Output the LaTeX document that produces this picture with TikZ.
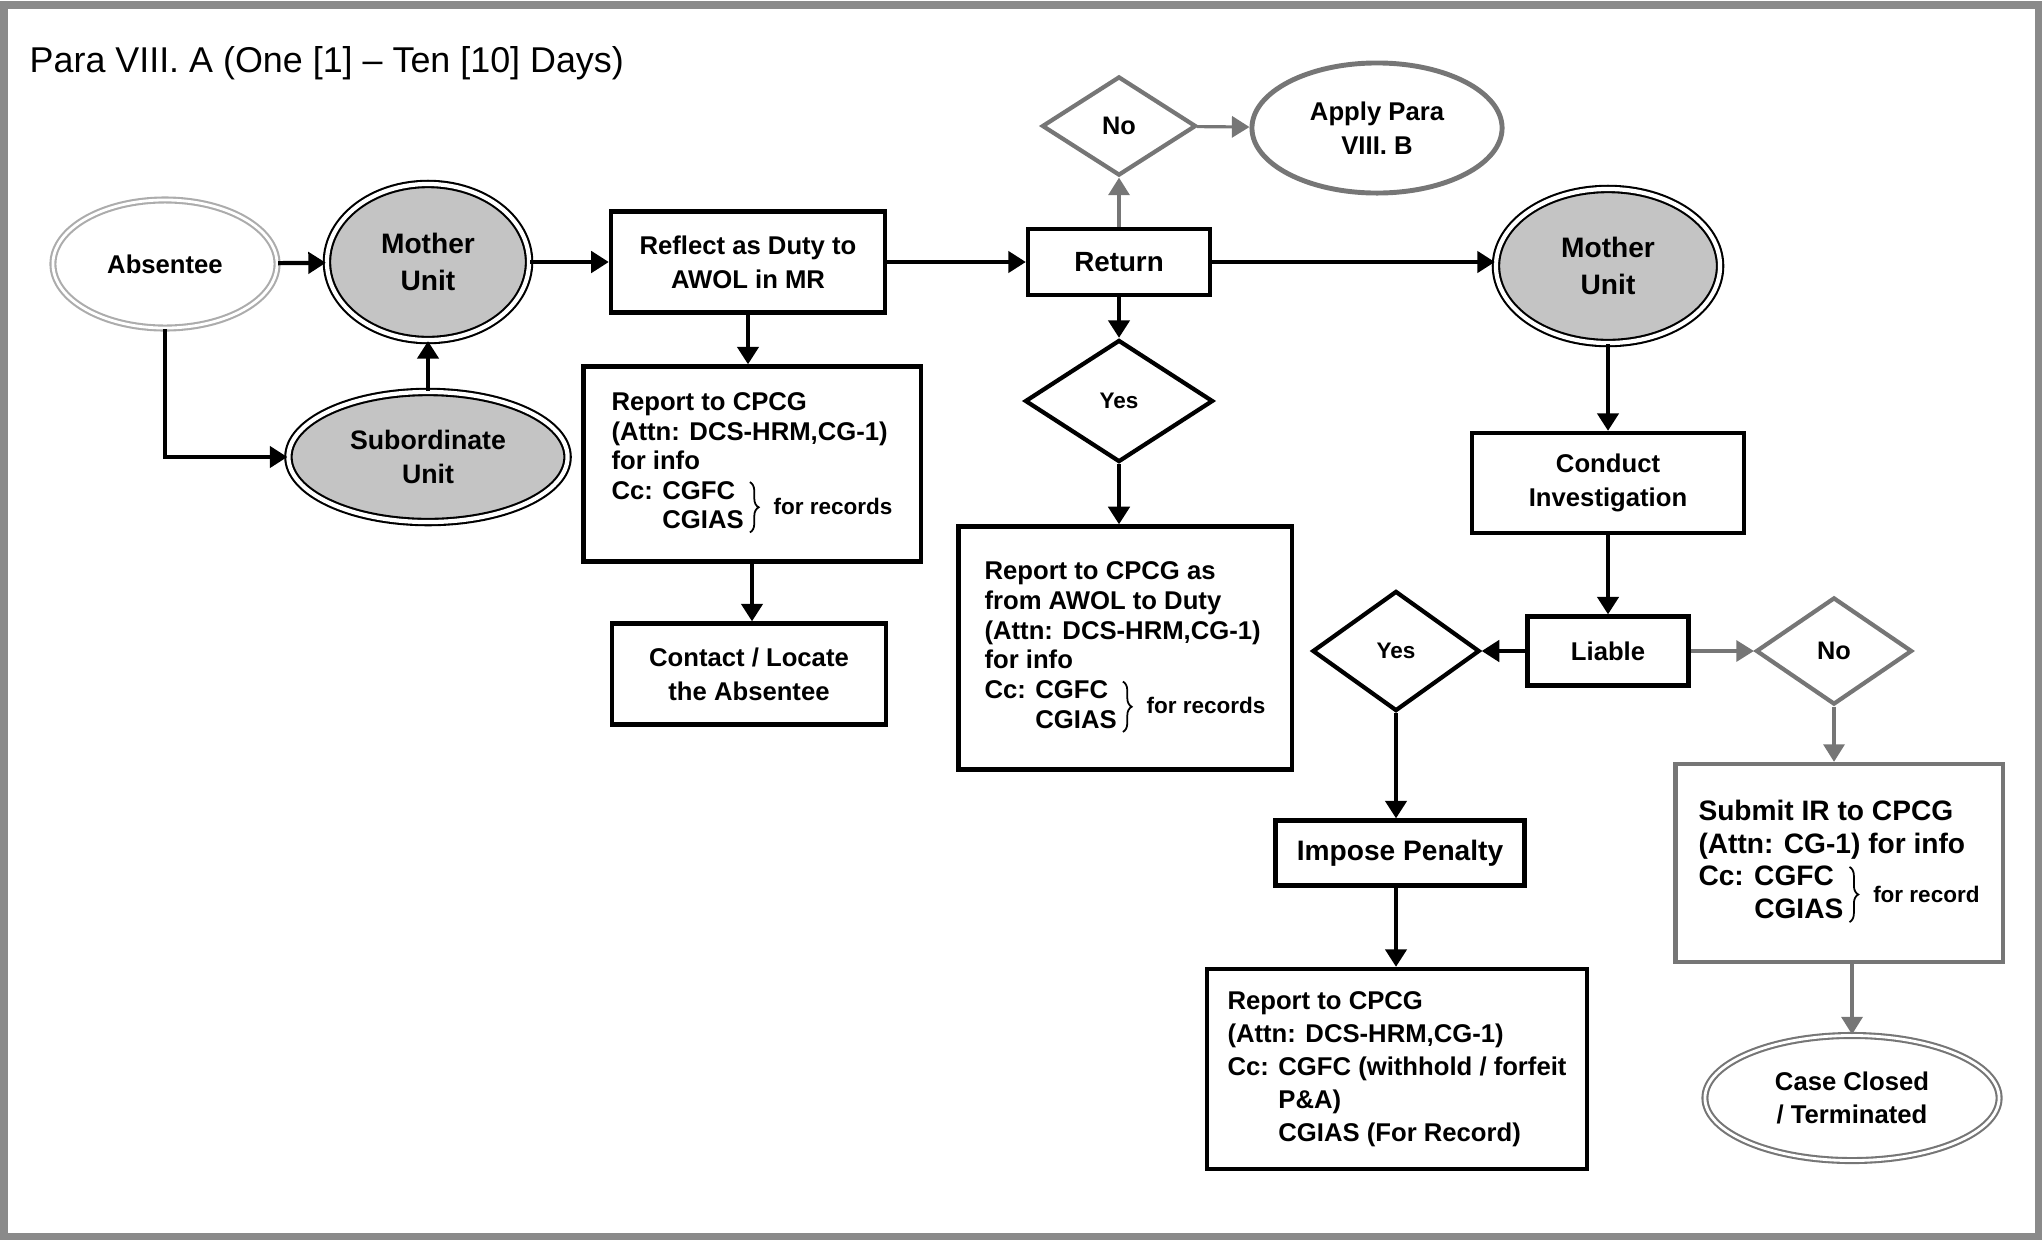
\documentclass[tikz,border=0pt]{standalone}
\usepackage{fontspec}
\setmainfont{Liberation Sans}
\usepackage{xcolor}
\usetikzlibrary{arrows.meta,shapes.geometric,decorations.pathreplacing}
\definecolor{unitgray}{HTML}{C4C4C4}
\definecolor{linegray}{HTML}{767676}
\definecolor{framegray}{HTML}{8A8A8A}
\newcommand{\ccbrace}[3]{\begin{tabular}{@{}l@{ }l@{}}Cc: & #1\\ & #2\end{tabular}\kern1.5pt\tikz[baseline=-0.28em]\draw[black,line width=0.5pt,decorate,decoration={brace,amplitude=2.5pt}] (0pt,0.98em) -- (0pt,-0.98em);\kern4pt{\fontsize{6.4}{7}\selectfont #3}}

\begin{document}
\begin{tikzpicture}[x=0.01cm,y=-0.01cm,
  every node/.style={font=\bfseries\fontsize{7.3}{9.6}\selectfont, inner sep=0pt},
  flowbox/.style={draw, rectangle, line width=1.2pt, align=center},
  graybox/.style={flowbox, draw=linegray},
  unit/.style={ellipse, draw, double, double distance=1.2pt, line width=0.6pt, fill=unitgray, align=center, font=\bfseries\fontsize{8}{10.6}\selectfont},
  plainoval/.style={ellipse, draw=gray!65, double, double distance=0.8pt, line width=0.6pt, align=center},
  grayoval/.style={ellipse, draw=linegray, line width=1.4pt, align=center},
  decision/.style={diamond, draw, line width=1.2pt, font=\bfseries\fontsize{6.4}{8}\selectfont},
  graydecision/.style={decision, draw=linegray, font=\bfseries\fontsize{7.2}{8}\selectfont},
  arrow/.style={line width=1.2pt, -{Triangle[width=6pt,length=5pt]}},
  grayarrow/.style={arrow, draw=linegray, line width=0.9pt}]
  \useasboundingbox (0,0) rectangle (2043,1242);
  \draw[framegray, line width=2pt] (4,5) rectangle (2038,1236);
  \node[anchor=west, font=\mdseries\fontsize{10.2}{12}\selectfont] (title) at (29,63) {Para VIII. A (One [1] – Ten [10] Days)};

  \node[plainoval, minimum width=2.24cm, minimum height=1.28cm] (absentee) at (165,264) {Absentee};
  \node[unit, minimum width=2.02cm, minimum height=1.56cm] (motherL) at (428,262) {Mother\\Unit};
  \node[unit, minimum width=2.79cm, minimum height=1.30cm, font=\bfseries\fontsize{7.6}{9.6}\selectfont] (subunit) at (428,457) {Subordinate\\Unit};
  \node[flowbox, minimum width=2.74cm, minimum height=1.01cm] (reflect) at (748,262) {Reflect as Duty to\\AWOL in MR};
  \node[flowbox, minimum width=3.37cm, minimum height=1.95cm, font=\bfseries\fontsize{7.3}{8.4}\selectfont] (report1) at (752,464) {%
    \begin{tabular}{@{}l@{}}Report to CPCG\\(Attn: DCS-HRM,CG-1)\\for info\\\ccbrace{CGFC}{CGIAS}{for records}\end{tabular}};
  \node[flowbox, minimum width=2.74cm, minimum height=1.01cm] (contact) at (749,674) {Contact / Locate\\the Absentee};

  \node[flowbox, minimum width=1.82cm, minimum height=0.66cm, font=\bfseries\fontsize{7.9}{9.6}\selectfont] (return) at (1119,262) {Return};
  \node[graydecision, minimum width=1.54cm, minimum height=0.99cm] (notop) at (1119,126) {No};
  \node[grayoval, minimum width=2.50cm, minimum height=1.30cm] (apply) at (1377,128) {Apply Para\\VIII. B};
  \node[decision, minimum width=1.88cm, minimum height=1.22cm] (yes1) at (1119,401) {Yes};
  \node[flowbox, minimum width=3.33cm, minimum height=2.43cm, font=\bfseries\fontsize{7.3}{8.5}\selectfont] (report2) at (1125,648) {%
    \begin{tabular}{@{}l@{}}Report to CPCG as\\from AWOL to Duty\\(Attn: DCS-HRM,CG-1)\\for info\\\ccbrace{CGFC}{CGIAS}{for records}\end{tabular}};

  \node[unit, minimum width=2.24cm, minimum height=1.54cm] (motherR) at (1608,266) {Mother\\Unit};
  \node[flowbox, minimum width=2.72cm, minimum height=1.00cm] (conduct) at (1608,483) {Conduct\\Investigation};
  \node[flowbox, minimum width=1.61cm, minimum height=0.69cm] (liable) at (1608,651) {Liable};
  \node[decision, minimum width=1.67cm, minimum height=1.20cm] (yes2) at (1396,651) {Yes};
  \node[graydecision, minimum width=1.56cm, minimum height=1.07cm] (noR) at (1834,651) {No};
  \node[flowbox, minimum width=2.49cm, minimum height=0.65cm, font=\bfseries\fontsize{8}{9.6}\selectfont] (impose) at (1400,853) {Impose Penalty};
  \node[flowbox, minimum width=3.80cm, minimum height=2.00cm, font=\bfseries\fontsize{7.3}{9.4}\selectfont] (report3) at (1397,1069) {%
    \begin{tabular}{@{}l@{ }l@{}}\multicolumn{2}{@{}l@{}}{Report to CPCG}\\\multicolumn{2}{@{}l@{}}{(Attn: DCS-HRM,CG-1)}\\Cc: & CGFC (withhold / forfeit\\ & P\&A)\\ & CGIAS (For Record)\end{tabular}};
  \node[graybox, minimum width=3.27cm, minimum height=1.98cm, font=\bfseries\fontsize{8}{9.2}\selectfont] (submit) at (1839,863) {%
    \begin{tabular}{@{}l@{}}Submit IR to CPCG\\(Attn: CG-1) for info\\\ccbrace{CGFC}{CGIAS}{for record}\end{tabular}};
  \node[plainoval, draw=linegray, minimum width=2.94cm, minimum height=1.25cm] (closed) at (1852,1098) {Case Closed\\/ Terminated};

  \draw[arrow] (absentee) -- (motherL);
  \draw[arrow] (absentee.south) |- (subunit.west);
  \draw[arrow] (subunit) -- (motherL);
  \draw[arrow] (motherL) -- (reflect);
  \draw[arrow] (reflect.south) -- (reflect.south |- report1.north);
  \draw[arrow] (report1.south) -- (report1.south |- contact.north);
  \draw[arrow] (reflect) -- (return);
  \draw[grayarrow] (return) -- (notop);
  \draw[grayarrow] (notop) -- (apply);
  \draw[arrow] (return) -- (yes1);
  \draw[arrow] (yes1.south) -- (yes1.south |- report2.north);
  \draw[arrow] (return.east) -- (return.east -| motherR.west);
  \draw[arrow] (motherR.south) -- (motherR.south |- conduct.north);
  \draw[arrow] (conduct) -- (liable);
  \draw[arrow] (liable) -- (yes2);
  \draw[grayarrow] (liable) -- (noR);
  \draw[arrow] (yes2.south) -- (yes2.south |- impose.north);
  \draw[arrow] (yes2 |- impose.south) -- (yes2 |- report3.north);
  \draw[grayarrow] (noR.south) -- (noR.south |- submit.north);
  \draw[grayarrow] (closed |- submit.south) -- (closed.north);
\end{tikzpicture}
\end{document}
